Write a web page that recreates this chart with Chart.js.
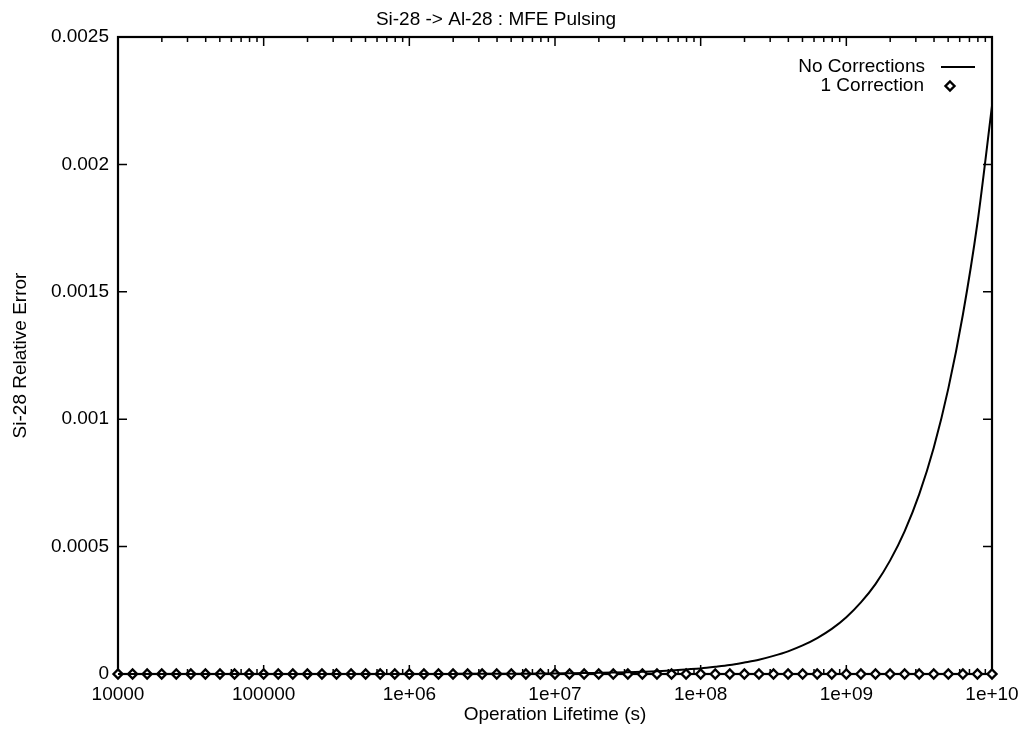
<!DOCTYPE html>
<html>
<head>
<meta charset="utf-8">
<script src="https://cdn.jsdelivr.net/npm/chart.js@4"></script>
<style>
  html, body { margin: 0; padding: 0; background: #ffffff; }
  #wrap { width: 1024px; height: 730px; }
</style>
</head>
<body>
<div id="wrap"><canvas id="c" width="1024" height="730"></canvas></div>
<script>
// ---- data ----
const titleText = "Si-28 -> Al-28 : MFE Pulsing";
const xTitle = "Operation Lifetime (s)";
const yTitle = "Si-28 Relative Error";
const seriesNames = ["No Corrections", "1 Correction"];

const lifetimes = [
  1e4, 1.2589e4, 1.5849e4, 1.9953e4, 2.5119e4, 3.1623e4, 3.9811e4, 5.0119e4, 6.3096e4, 7.9433e4,
  1e5, 1.2589e5, 1.5849e5, 1.9953e5, 2.5119e5, 3.1623e5, 3.9811e5, 5.0119e5, 6.3096e5, 7.9433e5,
  1e6, 1.2589e6, 1.5849e6, 1.9953e6, 2.5119e6, 3.1623e6, 3.9811e6, 5.0119e6, 6.3096e6, 7.9433e6,
  1e7, 1.2589e7, 1.5849e7, 1.9953e7, 2.5119e7, 3.1623e7, 3.9811e7, 5.0119e7, 6.3096e7, 7.9433e7,
  1e8, 1.2589e8, 1.5849e8, 1.9953e8, 2.5119e8, 3.1623e8, 3.9811e8, 5.0119e8, 6.3096e8, 7.9433e8,
  1e9, 1.2589e9, 1.5849e9, 1.9953e9, 2.5119e9, 3.1623e9, 3.9811e9, 5.0119e9, 6.3096e9, 7.9433e9,
  1e10
];

const noCorrections = [
  2.2e-9, 2.8e-9, 3.5e-9, 4.5e-9, 5.6e-9, 7.1e-9, 8.9e-9, 1.1e-8, 1.4e-8, 1.8e-8,
  2.2e-8, 2.8e-8, 3.5e-8, 4.5e-8, 5.6e-8, 7.1e-8, 8.9e-8, 1.1e-7, 1.4e-7, 1.8e-7,
  2.2e-7, 2.8e-7, 3.5e-7, 4.5e-7, 5.6e-7, 7.1e-7, 8.9e-7, 1.1e-6, 1.4e-6, 1.8e-6,
  2.2e-6, 2.8e-6, 3.5e-6, 4.5e-6, 5.6e-6, 7.1e-6, 8.9e-6, 1.1e-5, 1.4e-5, 1.8e-5,
  2.2e-5, 2.8e-5, 3.5e-5, 4.5e-5, 5.6e-5, 7.1e-5, 8.9e-5, 1.12e-4, 1.41e-4, 1.77e-4,
  2.23e-4, 2.81e-4, 3.53e-4, 4.45e-4, 5.6e-4, 7.05e-4, 8.88e-4, 1.12e-3, 1.41e-3, 1.77e-3,
  2.23e-3
];

const oneCorrection = [
  0, 0, 0, 0, 0, 0, 0, 0, 0, 0,
  0, 0, 0, 0, 0, 0, 0, 0, 0, 0,
  0, 0, 0, 0, 0, 0, 0, 0, 0, 0,
  0, 0, 0, 0, 0, 0, 0, 0, 0, 0,
  0, 0, 0, 0, 0, 0, 0, 0, 0, 0,
  0, 0, 0, 0, 0, 0, 0, 0, 0, 0,
  0
];

const xTickValues = [1e4, 1e5, 1e6, 1e7, 1e8, 1e9, 1e10];
const xTickLabels = ["10000", "100000", "1e+06", "1e+07", "1e+08", "1e+09", "1e+10"];
const yTickValues = [0, 0.0005, 0.001, 0.0015, 0.002, 0.0025];
const yTickLabels = ["0", "0.0005", "0.001", "0.0015", "0.002", "0.0025"];

// ---- chart ----
const FONT = "'Liberation Sans', Arial, Helvetica, sans-serif";
const FSIZE = 19;

function pts(xs, ys) { return xs.map((x, i) => ({ x: x, y: ys[i] })); }

const framePlugin = {
  id: 'gnuframe',
  beforeDatasetsDraw(chart) {
    const ctx = chart.ctx;
    const a = chart.chartArea;
    const xs = chart.scales.x, ys = chart.scales.y;
    ctx.save();
    ctx.strokeStyle = '#000';
    ctx.lineWidth = 1.5;
    ctx.beginPath();
    for (let d = 0; d < xTickValues.length; d++) {
      const v = xTickValues[d];
      const px = xs.getPixelForValue(v);
      ctx.moveTo(px, a.bottom); ctx.lineTo(px, a.bottom - 9);
      ctx.moveTo(px, a.top); ctx.lineTo(px, a.top + 9);
      if (d < xTickValues.length - 1) {
        for (let m = 2; m <= 9; m++) {
          const mx = xs.getPixelForValue(v * m);
          ctx.moveTo(mx, a.bottom); ctx.lineTo(mx, a.bottom - 5);
          ctx.moveTo(mx, a.top); ctx.lineTo(mx, a.top + 5);
        }
      }
    }
    for (const v of yTickValues) {
      const py = ys.getPixelForValue(v);
      ctx.moveTo(a.left, py); ctx.lineTo(a.left + 9, py);
      ctx.moveTo(a.right, py); ctx.lineTo(a.right - 9, py);
    }
    ctx.stroke();
    ctx.lineWidth = 2.2;
    ctx.strokeRect(a.left, a.top, a.right - a.left, a.bottom - a.top);
    ctx.restore();
  },
  afterDraw(chart) {
    const ctx = chart.ctx;
    const ds = chart.data.datasets;
    ctx.save();
    ctx.font = FSIZE + 'px ' + FONT;
    ctx.fillStyle = '#000';
    ctx.textAlign = 'right';
    ctx.textBaseline = 'middle';
    ctx.fillText(ds[0].label, 925, 67);
    ctx.fillText(ds[1].label, 924, 86);
    ctx.strokeStyle = '#000';
    ctx.lineWidth = 2;
    ctx.beginPath();
    ctx.moveTo(941, 67); ctx.lineTo(975, 67);
    ctx.stroke();
    ctx.lineWidth = 2.4;
    ctx.beginPath();
    ctx.moveTo(950, 81.5); ctx.lineTo(954.5, 86); ctx.lineTo(950, 90.5); ctx.lineTo(945.5, 86); ctx.closePath();
    ctx.fillStyle = '#fff';
    ctx.fill();
    ctx.stroke();
    ctx.restore();
  }
};

new Chart(document.getElementById('c'), {
  type: 'line',
  data: {
    datasets: [
      {
        label: seriesNames[0],
        data: pts(lifetimes, noCorrections),
        borderColor: '#000',
        borderWidth: 2,
        pointRadius: 0,
        fill: false,
        cubicInterpolationMode: 'monotone',
        clip: false
      },
      {
        label: seriesNames[1],
        data: pts(lifetimes, oneCorrection),
        showLine: false,
        pointStyle: 'rectRot',
        pointRadius: 4.5,
        pointBorderWidth: 2.4,
        pointBorderColor: '#000',
        pointBackgroundColor: '#fff',
        clip: false
      }
    ]
  },
  options: {
    responsive: false,
    animation: false,
    devicePixelRatio: 1,
    layout: { padding: { left: 0, right: 32, top: 0, bottom: 0 } },
    plugins: {
      legend: { display: false },
      tooltip: { enabled: false },
      title: {
        display: true,
        text: titleText,
        color: '#000',
        font: { family: FONT, size: FSIZE, weight: 'normal' },
        padding: { top: 8.6, bottom: 5.6 }
      }
    },
    scales: {
      x: {
        type: 'logarithmic',
        min: 1e4,
        max: 1e10,
        afterBuildTicks: (s) => { s.ticks = xTickValues.map(v => ({ value: v })); },
        afterFit: (s) => { s.height = 56; s.paddingLeft = 0; s.paddingRight = 0; },
        ticks: {
          autoSkip: false,
          maxRotation: 0,
          padding: 9,
          color: '#000',
          font: { family: FONT, size: FSIZE },
          callback: (v, i) => xTickLabels[i]
        },
        grid: { display: false, drawTicks: false },
        border: { display: false },
        title: {
          display: true,
          text: xTitle,
          color: '#000',
          font: { family: FONT, size: FSIZE },
          padding: { top: 0, bottom: 3.6 }
        }
      },
      y: {
        type: 'linear',
        min: 0,
        max: 0.0025,
        afterBuildTicks: (s) => { s.ticks = yTickValues.map(v => ({ value: v })); },
        afterFit: (s) => { s.width = 118; s.paddingTop = 0; s.paddingBottom = 0; },
        ticks: {
          autoSkip: false,
          padding: 9,
          color: '#000',
          font: { family: FONT, size: FSIZE },
          callback: (v, i) => yTickLabels[i]
        },
        grid: { display: false, drawTicks: false },
        border: { display: false },
        title: {
          display: true,
          text: yTitle,
          color: '#000',
          font: { family: FONT, size: FSIZE },
          padding: { top: 9.6, bottom: 0 }
        }
      }
    }
  },
  plugins: [framePlugin]
});
</script>
</body>
</html>
